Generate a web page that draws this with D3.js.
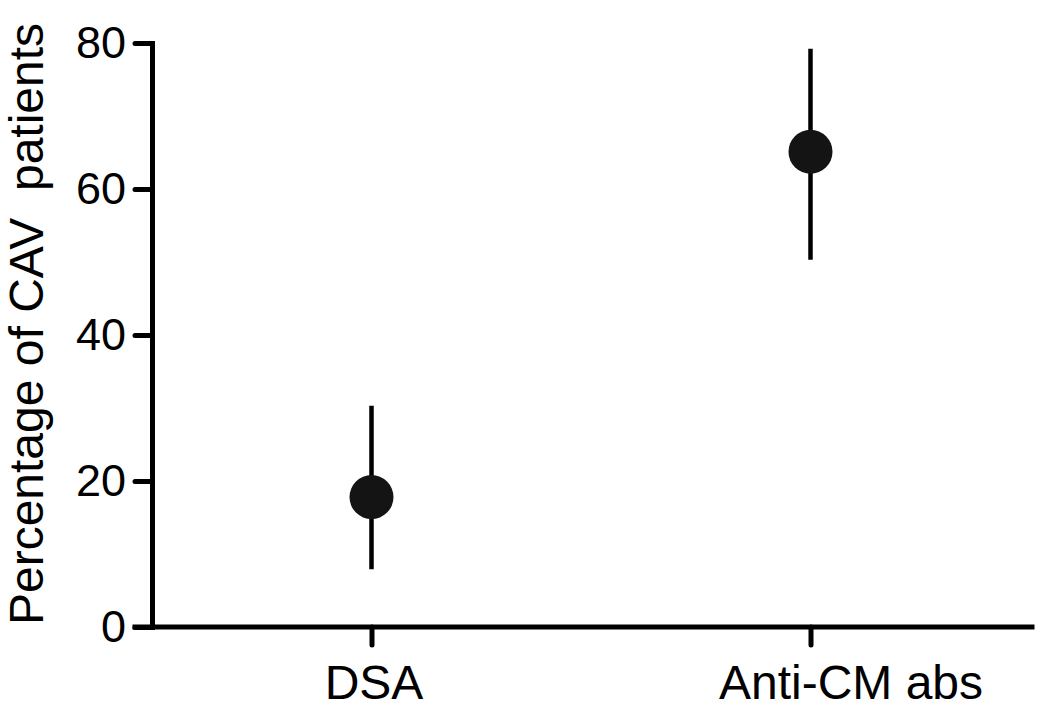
<html>
<head>
<title>CAV patients</title>
<style>
body { margin: 0; background: #fff; }
svg text { font-family: Arial, 'Liberation Sans', sans-serif; fill: #000; }
.axis path, .axis line { stroke: #000; stroke-width: 5; stroke-linecap: round; }
.axis .domain { stroke-linecap: square; }
.errbar { stroke: #000; stroke-width: 4.5; }
.dot { fill: #141414; }
</style>
</head>
<body>
<svg id='plot' width='1048' height='715'></svg>
<script src='https://cdn.jsdelivr.net/npm/d3@7'></script>
<script>
// values
const groups = ['DSA', 'Anti-CM abs'];
const means = [17.8, 65.1];
const upper = [30.3, 79.2];
const lower = [7.9, 50.3];
const yTicks = [0, 20, 40, 60, 80];
// the second category label sits right of its tick in the original
const labelShift = [2, 40];

const svg = d3.select('#plot');

const x = d3.scalePoint().domain(groups).range([152, 1030]).padding(0.5);
const y = d3.scaleLinear().domain([0, 80]).range([627, 43]);

// y axis
const gy = svg.append('g')
  .attr('class', 'axis')
  .attr('transform', 'translate(152,0)')
  .call(d3.axisLeft(y).tickValues(yTicks).tickSize(17).tickSizeOuter(0).tickPadding(9));
gy.selectAll('text').style('font-size', '45px');

// x axis
const gx = svg.append('g')
  .attr('class', 'axis')
  .attr('transform', 'translate(0,627)')
  .call(d3.axisBottom(x).tickSize(18).tickSizeOuter(0).tickPadding(20));
gx.select('.domain').attr('d', 'M135,0H1032');
gx.selectAll('text')
  .style('font-size', '48px')
  .attr('dx', (d, i) => labelShift[i]);

// y label
svg.append('text')
  .attr('transform', 'translate(43,324) rotate(-90)')
  .attr('text-anchor', 'middle')
  .attr('xml:space', 'preserve')
  .style('font-size', '48px')
  .text('Percentage of CAV  patients');

// error bars
svg.selectAll('.errbar')
  .data(groups)
  .join('line')
  .attr('class', 'errbar')
  .attr('x1', d => x(d))
  .attr('x2', d => x(d))
  .attr('y1', (d, i) => y(upper[i]))
  .attr('y2', (d, i) => y(lower[i]));

// points
svg.selectAll('.dot')
  .data(groups)
  .join('circle')
  .attr('class', 'dot')
  .attr('cx', d => x(d))
  .attr('cy', (d, i) => y(means[i]))
  .attr('r', 22);
</script>
</body>
</html>
